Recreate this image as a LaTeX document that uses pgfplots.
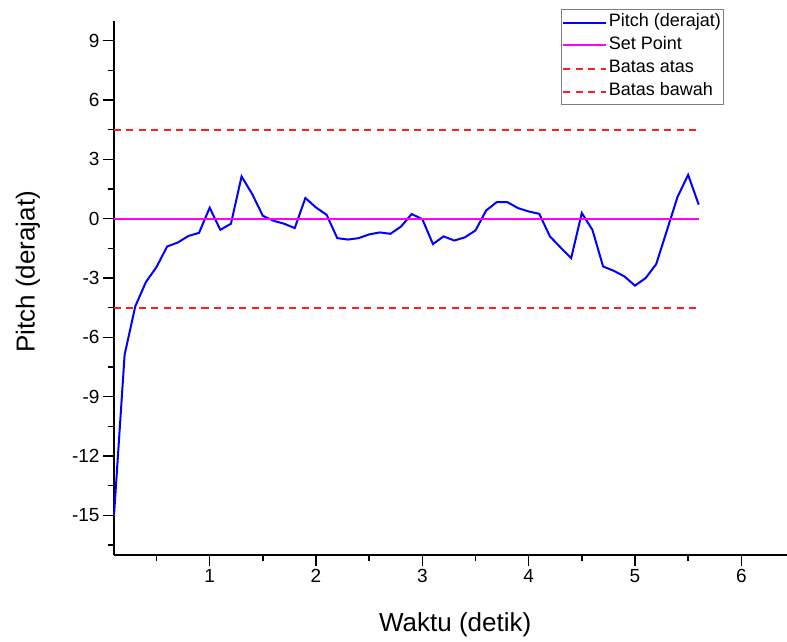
\documentclass[border=0pt]{standalone}
\usepackage{fontspec}
\setmainfont{Liberation Sans}
\usepackage{pgfplots}
\pgfplotsset{compat=1.18}
\usepackage{pgfplotstable}

\definecolor{pitchblue}{RGB}{0,0,255}
\definecolor{setpoint}{RGB}{255,0,255}
\definecolor{batas}{RGB}{255,30,30}

% pitch response
\pgfplotstableread{
t    p
0.1  -15.0
0.2  -6.87
0.3  -4.43
0.4  -3.20
0.5  -2.44
0.6  -1.40
0.7  -1.20
0.8  -0.87
0.9  -0.71
1.0  0.56
1.1  -0.56
1.2  -0.25
1.3  2.14
1.4  1.25
1.5  0.15
1.6  -0.10
1.7  -0.25
1.8  -0.47
1.9  1.05
2.0  0.57
2.1  0.20
2.2  -0.98
2.3  -1.05
2.4  -0.98
2.5  -0.79
2.6  -0.69
2.7  -0.76
2.8  -0.39
2.9  0.24
3.0  -0.02
3.1  -1.28
3.2  -0.89
3.3  -1.10
3.4  -0.94
3.5  -0.59
3.6  0.42
3.7  0.84
3.8  0.84
3.9  0.54
4.0  0.37
4.1  0.25
4.2  -0.89
4.3  -1.45
4.4  -1.99
4.5  0.29
4.6  -0.56
4.7  -2.41
4.8  -2.63
4.9  -2.91
5.0  -3.38
5.1  -3.00
5.2  -2.29
5.3  -0.60
5.4  1.10
5.5  2.22
5.6  0.71
}\pitchdata

\begin{document}
\begin{tikzpicture}
\useasboundingbox (-114pt,-86pt) rectangle (673pt,555pt);
\begin{axis}[
    at={(0,0)}, anchor=south west,
    scale only axis, width=673pt, height=534pt,
    xmin=0.1, xmax=6.43, ymin=-17, ymax=10,
    axis x line*=bottom, axis y line*=left,
    axis line style={line width=1.6pt, -},
    xtick={1,2,3,4,5,6}, minor xtick={0.5,1.5,...,6.5},
    ytick={-15,-12,...,9}, minor ytick={-16.5,-13.5,...,9},
    tick align=outside,
    major tick length=11pt, minor tick length=6pt,
    every tick/.style={black, line width=1.4pt},
    tick label style={font=\fontsize{19}{22}\selectfont},
    /pgf/number format/assume math mode=true,
    xlabel={Waktu (detik)}, ylabel={Pitch (derajat)},
    label style={font=\fontsize{26}{30}\selectfont},
    xlabel style={at={(axis description cs:0.507,-0.131)}, anchor=center},
    ylabel style={at={(axis description cs:-0.128,0.53)}, anchor=center},
    clip=false,
    legend style={at={(rel axis cs:0.664,1.022)}, anchor=north west,
        draw=black!50, line width=0.8pt, fill=white,
        font=\fontsize{18}{22}\selectfont,
        inner xsep=1pt, inner ysep=3pt, row sep=3pt,
        nodes={inner xsep=1.5pt, inner ysep=0pt, text height=14pt, text depth=6pt}},
    legend cell align=left,
    legend image code/.code={\draw[#1] (0pt,0pt) -- (43pt,0pt);},
]
\addplot[draw=pitchblue, line width=2pt] table[x=t, y=p] {\pitchdata};
\addlegendentry{Pitch (derajat)}
\addplot[draw=setpoint, line width=1.8pt,
    legend image code/.code={\draw[draw=setpoint, line width=2pt] (0pt,0.5pt) -- (43pt,0.5pt);}]
    coordinates {(0.1,0) (5.6,0)};
\addlegendentry{Set Point}
\addplot[draw=batas, line width=2pt, dash pattern=on 7pt off 5.5pt] coordinates {(0.1,4.5) (5.6,4.5)};
\addlegendentry{Batas atas}
\addplot[draw=batas, line width=2pt, dash pattern=on 7pt off 5.5pt] coordinates {(0.1,-4.5) (5.6,-4.5)};
\addlegendentry{Batas bawah}
\end{axis}
\end{tikzpicture}
\end{document}
